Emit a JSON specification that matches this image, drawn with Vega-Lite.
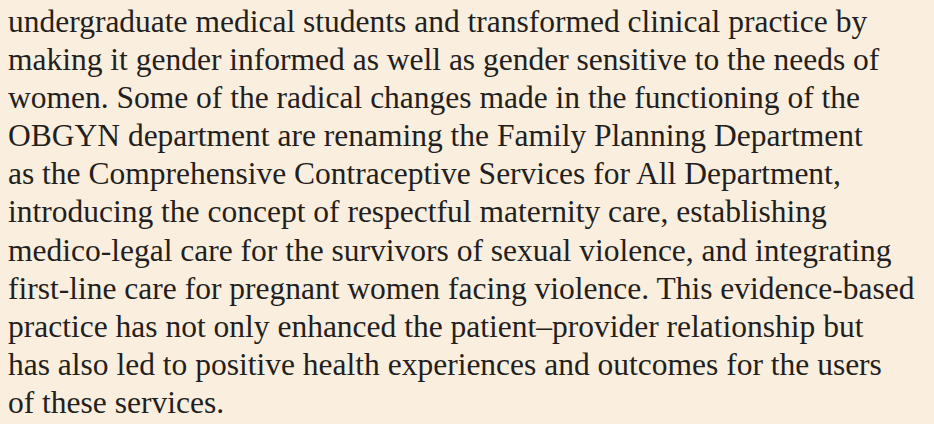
{
  "$schema": "https://vega.github.io/schema/vega-lite/v6.json",
  "width": 934,
  "height": 424,
  "autosize": {"type": "fit", "contains": "padding"},
  "padding": 0,
  "background": "#FAEEDE",
  "config": {"view": {"stroke": null}},
  "data": {
    "values": [
      {"line": 0, "col": 0, "text": "undergraduate medical students and transformed clinical practice by"},
      {"line": 1, "col": 0, "text": "making it gender informed as well as gender sensitive to the needs of"},
      {"line": 2, "col": 0, "text": "women. Some of the radical changes made in the functioning of the"},
      {"line": 3, "col": 0, "text": "OBGYN department are renaming the Family Planning Department"},
      {"line": 4, "col": 0, "text": "as the Comprehensive Contraceptive Services for All Department,"},
      {"line": 5, "col": 0, "text": "introducing the concept of respectful maternity care, establishing"},
      {"line": 6, "col": 0, "text": "medico-legal care for the survivors of sexual violence, and integrating"},
      {"line": 7, "col": 0, "text": "first-line care for pregnant women facing violence. This evidence-based"},
      {"line": 8, "col": 0, "text": "practice has not only enhanced the patient–provider relationship but"},
      {"line": 9, "col": 0, "text": "has also led to positive health experiences and outcomes for the users"},
      {"line": 10, "col": 0, "text": "of these services."}
    ]
  },
  "mark": {
    "type": "text",
    "align": "left",
    "baseline": "alphabetic",
    "font": "Liberation Serif",
    "fontSize": 31.5,
    "color": "#231F20",
    "dx": 8
  },
  "encoding": {
    "x": {"field": "col", "type": "quantitative", "scale": {"domain": [0, 1]}, "axis": null},
    "y": {"field": "line", "type": "quantitative", "scale": {"domain": [-0.84, 10.29], "reverse": true, "nice": false, "zero": false}, "axis": null},
    "text": {"field": "text"}
  }
}
